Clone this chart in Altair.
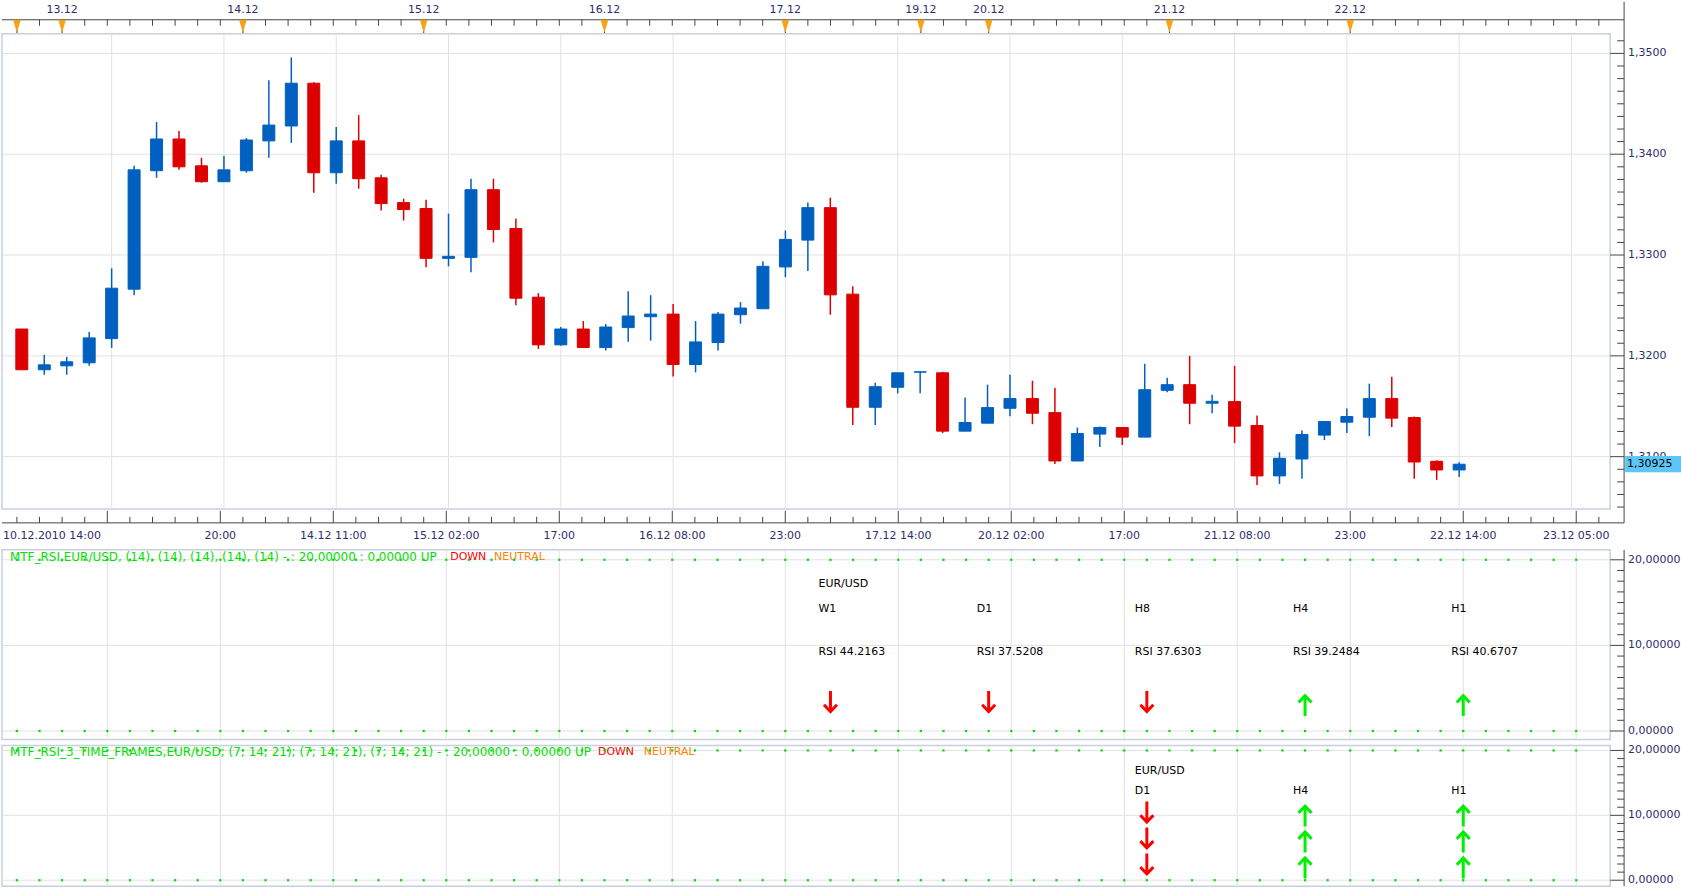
import altair as alt
import pandas as pd

# ---------------- data (EUR/USD, 3-hour candles) ----------------
candle_open = [1.32266, 1.31862, 1.31901, 1.31931, 1.32171, 1.32661, 1.33836, 1.34151, 1.33885, 1.33727,
               1.33836, 1.34132, 1.34280, 1.34704, 1.33816, 1.34132, 1.33766, 1.33520, 1.33461, 1.32967,
               1.32977, 1.33648, 1.33263, 1.32582, 1.32109, 1.32266, 1.32082, 1.32280, 1.32388, 1.32414,
               1.31914, 1.32132, 1.32408, 1.32467, 1.32882, 1.33148, 1.33470, 1.32612, 1.31490, 1.31688,
               1.31838, 1.31832, 1.31253, 1.31332, 1.31480, 1.31576, 1.31437, 1.30957, 1.31224, 1.31289,
               1.31194, 1.31658, 1.31714, 1.31530, 1.31546, 1.31309, 1.30809, 1.30977, 1.31214, 1.31342,
               1.31391, 1.31576, 1.31388, 1.30954, 1.30868]
candle_high = [1.32266, 1.32010, 1.31990, 1.32237, 1.32868, 1.33885, 1.34319, 1.34230, 1.33964, 1.33984,
               1.34161, 1.34734, 1.34960, 1.34714, 1.34270, 1.34388, 1.33796, 1.33559, 1.33549, 1.33411,
               1.33757, 1.33757, 1.33362, 1.32622, 1.32286, 1.32345, 1.32316, 1.32641, 1.32602, 1.32513,
               1.32345, 1.32434, 1.32533, 1.32938, 1.33243, 1.33520, 1.33569, 1.32691, 1.31734, 1.31832,
               1.31842, 1.31842, 1.31586, 1.31714, 1.31813, 1.31753, 1.31684, 1.31289, 1.31299, 1.31289,
               1.31921, 1.31783, 1.32000, 1.31615, 1.31901, 1.31408, 1.31043, 1.31260, 1.31349, 1.31477,
               1.31724, 1.31793, 1.31398, 1.30964, 1.30944]
candle_low = [1.31862, 1.31813, 1.31813, 1.31901, 1.32079, 1.32602, 1.33766, 1.33845, 1.33717, 1.33727,
              1.33816, 1.33964, 1.34112, 1.33618, 1.33707, 1.33658, 1.33441, 1.33342, 1.32878, 1.32888,
              1.32829, 1.33125, 1.32503, 1.32069, 1.32099, 1.32082, 1.32053, 1.32141, 1.32151, 1.31796,
              1.31836, 1.32053, 1.32319, 1.32467, 1.32780, 1.32842, 1.32408, 1.31313, 1.31313, 1.31628,
              1.31628, 1.31234, 1.31253, 1.31332, 1.31401, 1.31322, 1.30928, 1.30957, 1.31095, 1.31115,
              1.31194, 1.31638, 1.31322, 1.31431, 1.31135, 1.30720, 1.30730, 1.30780, 1.31164, 1.31234,
              1.31204, 1.31293, 1.30780, 1.30770, 1.30799]
candle_close = [1.31862, 1.31911, 1.31941, 1.32178, 1.32671, 1.33845, 1.34151, 1.33875, 1.33727, 1.33845,
                1.34141, 1.34289, 1.34704, 1.33816, 1.34132, 1.33757, 1.33510, 1.33451, 1.32967, 1.32987,
                1.33648, 1.33253, 1.32572, 1.32109, 1.32266, 1.32082, 1.32286, 1.32395, 1.32414, 1.31914,
                1.32138, 1.32414, 1.32474, 1.32888, 1.33155, 1.33470, 1.32605, 1.31490, 1.31694, 1.31832,
                1.31842, 1.31253, 1.31339, 1.31487, 1.31576, 1.31431, 1.30957, 1.31230, 1.31289, 1.31194,
                1.31664, 1.31714, 1.31530, 1.31549, 1.31303, 1.30809, 1.30984, 1.31220, 1.31349, 1.31398,
                1.31576, 1.31382, 1.30947, 1.30868, 1.30925]

day_marker_index = [0, 2, 10, 18, 26, 34, 40, 43, 51, 59]
day_marker_label = ["", "13.12", "14.12", "15.12", "16.12", "17.12", "19.12", "20.12", "21.12", "22.12"]

first_time_label = "10.12.2010 14:00"
time_label_index = [9, 14, 19, 24, 29, 34, 39, 44, 49, 54, 59, 64, 69]
time_label_text = ["20:00", "14.12 11:00", "15.12 02:00", "17:00", "16.12 08:00", "23:00",
                   "17.12 14:00", "20.12 02:00", "17:00", "21.12 08:00", "23:00", "22.12 14:00",
                   "23.12 05:00"]
grid_index = [4, 9, 14, 19, 24, 29, 34, 39, 44, 49, 54, 59, 64, 69]

price_grid = [1.31, 1.32, 1.33, 1.34, 1.35]
price_grid_label = ["1,3100", "1,3200", "1,3300", "1,3400", "1,3500"]
last_price = [1.30925]
last_price_label = ["1,30925"]

# indicator 1: MTF_RSI
p1_header = "MTF_RSI,EUR/USD, (14), (14), (14), (14), (14) - : 20,00000 : 0,00000 UP"
p1_pair = ["EUR/USD"]
p1_index = [36, 43, 50, 57, 64]
p1_tf = ["W1", "D1", "H8", "H4", "H1"]
p1_rsi = [44.2163, 37.5208, 37.6303, 39.2484, 40.6707]
p1_dir = ["down", "down", "down", "up", "up"]

# indicator 2: MTF_RSI_3_TIME_FRAMES
p2_header = "MTF_RSI_3_TIME_FRAMES,EUR/USD; (7; 14; 21); (7; 14; 21), (7; 14; 21) - : 20,00000 : 0,00000 UP"
p2_pair = ["EUR/USD"]
p2_index = [50, 57, 64]
p2_tf = ["D1", "H4", "H1"]
p2_dir = [["down", "down", "down"], ["up", "up", "up"], ["up", "up", "up"]]

levels = [0, 10, 20]
level_label = ["0,00000", "10,00000", "20,00000"]
dot_level = [20, 0]

# ---------------- styling ----------------
FONT = "DejaVu Sans"
NAVY = "#2e2e6e"
GRID = "#e2e2e2"
BORDER = "#c6d0dc"
AXIS = "#444444"
BLUE = "#0060c0"
RED = "#dc0000"
GREEN = "#00e000"
W = 1611
AX_X = 1625

xs = alt.Scale(domain=[-0.66, 70.5], nice=False, zero=False)


def X(f):
    return alt.X(f, type="quantitative", scale=xs, axis=None)


one = pd.DataFrame({"a": [0]})


def vline(x, y0, y1):
    return alt.Chart(one).mark_rule(color=AXIS, strokeWidth=1).encode(
        x=alt.value(x), y=alt.value(y0), y2=alt.value(y1))


def hline(y, x0, x1):
    return alt.Chart(one).mark_rule(color=AXIS, strokeWidth=1).encode(
        x=alt.value(x0), x2=alt.value(x1), y=alt.value(y))


TRI = "M-0.6,-1L0.6,-1L0,1Z"
DOWN = "M0,-1L0,0.95M-0.62,0.3L0,0.95L0.62,0.3"
UP = "M0,1L0,-0.95M-0.62,-0.3L0,-0.95L0.62,-0.3"
BOX = "M-1,-0.29L1,-0.29L1,0.29L-1,0.29Z"

# ---------------- top date strip ----------------
markers = pd.DataFrame({"i": day_marker_index, "label": day_marker_label})
cand_idx = pd.DataFrame({"i": list(range(0, 71))})
top = alt.layer(
    hline(18, 0, AX_X),
    alt.Chart(cand_idx).mark_rule(color=AXIS).encode(x=X("i"), y=alt.value(18), y2=alt.value(24)),
    alt.Chart(markers).mark_rule(color="#333333").encode(x=X("i"), y=alt.value(18), y2=alt.value(32)),
    alt.Chart(markers).mark_point(shape=TRI, size=169, filled=True, color="#f7a21b", opacity=1).encode(
        x=X("i"), y=alt.value(24.5)),
    alt.Chart(markers).mark_text(font=FONT, fontSize=11, color=NAVY, baseline="middle").encode(
        x=X("i"), y=alt.value(8), text="label:N"),
    vline(AX_X, 0, 32),
).properties(width=W, height=32)

# ---------------- main candle chart ----------------
cdf = pd.DataFrame({"i": list(range(len(candle_open))), "open": candle_open, "high": candle_high,
                    "low": candle_low, "close": candle_close})
cdf["dir"] = ["up" if c >= o else "down" for o, c in zip(candle_open, candle_close)]
ys = alt.Scale(domain=[1.30482, 1.35195], nice=False, zero=False)


def Y(f):
    return alt.Y(f, type="quantitative", scale=ys, axis=None)


col = alt.Color("dir:N", scale=alt.Scale(domain=["up", "down"], range=[BLUE, RED]), legend=None)
tick_vals = [round(1.305 + k * 0.00125, 5) for k in range(38)]
ticks_df = pd.DataFrame({"p": tick_vals, "major": [k % 8 == 4 for k in range(38)]})
pg = pd.DataFrame({"p": price_grid, "label": price_grid_label})
lp = pd.DataFrame({"p": last_price, "label": last_price_label})

main = alt.layer(
    alt.Chart(pd.DataFrame({"i": grid_index})).mark_rule(color=GRID).encode(x=X("i")),
    alt.Chart(pg).mark_rule(color=GRID).encode(y=Y("p")),
    alt.Chart(cdf).mark_rule(strokeWidth=1.5).encode(x=X("i"), y=Y("low"), y2=alt.Y2("high"), color=col),
    alt.Chart(cdf).mark_bar(size=12, strokeWidth=1).encode(
        x=X("i"), y=Y("open"), y2=alt.Y2("close"), color=col, stroke=col),
    vline(AX_X, 0, 476),
    alt.Chart(ticks_df).transform_filter("!datum.major").mark_rule(color=AXIS).encode(
        x=alt.value(1618), x2=alt.value(AX_X), y=Y("p")),
    alt.Chart(ticks_df).transform_filter("datum.major").mark_rule(color=AXIS).encode(
        x=alt.value(W), x2=alt.value(AX_X), y=Y("p")),
    alt.Chart(pg).mark_text(font=FONT, fontSize=11, color=NAVY, align="left", baseline="middle").encode(
        x=alt.value(1629), y=Y("p"), text="label:N"),
    alt.Chart(lp).mark_point(shape=BOX, size=3136, filled=True, color="#5cc6f7", opacity=1).encode(
        x=alt.value(1654), y=Y("p")),
    alt.Chart(lp).mark_text(font=FONT, fontSize=11, color="#000000", align="left", baseline="middle").encode(
        x=alt.value(1628), y=Y("p"), text="label:N"),
).properties(width=W, height=476, view=alt.ViewBackground(stroke=BORDER, strokeWidth=1.5))

# ---------------- bottom time axis strip ----------------
tl = pd.DataFrame({"i": time_label_index, "label": time_label_text})
minor_idx = pd.DataFrame({"i": [k for k in range(0, 71) if k not in grid_index]})
bottom = alt.layer(
    hline(14, 0, AX_X),
    vline(AX_X, 0, 14),
    alt.Chart(pd.DataFrame({"i": grid_index})).mark_rule(color=AXIS).encode(
        x=X("i"), y=alt.value(2), y2=alt.value(14)),
    alt.Chart(minor_idx).mark_rule(color=AXIS).encode(x=X("i"), y=alt.value(8), y2=alt.value(14)),
    alt.Chart(tl).mark_text(font=FONT, fontSize=11, color=NAVY, baseline="middle").encode(
        x=X("i"), y=alt.value(27), text="label:N"),
    alt.Chart(pd.DataFrame({"label": [first_time_label]})).mark_text(
        font=FONT, fontSize=11, color=NAVY, align="left", baseline="middle").encode(
        x=alt.value(1), y=alt.value(27), text="label:N"),
).properties(width=W, height=41)


# ---------------- indicator panels ----------------
def panel_common(yscale, height, header, header_pos):
    def YP(f):
        return alt.Y(f, type="quantitative", scale=yscale, axis=None)
    dots = pd.DataFrame([{"i": i, "lvl": l} for l in dot_level for i in range(0, 70)])
    lv = pd.DataFrame({"v": levels, "label": level_label})
    pt = pd.DataFrame({"v": [k * 1.25 for k in range(17)], "major": [k % 8 == 0 for k in range(17)]})
    layers = [
        alt.Chart(pd.DataFrame({"i": grid_index})).mark_rule(color=GRID).encode(x=X("i")),
        alt.Chart(lv).mark_rule(color=GRID).encode(y=YP("v")),
        alt.Chart(pd.DataFrame({"t": [header]})).mark_text(
            font=FONT, fontSize=12, color=GREEN, align="left", baseline="middle").encode(
            x=alt.value(8), y=alt.value(header_pos[0]), text="t:N"),
        alt.Chart(pd.DataFrame({"t": ["DOWN"]})).mark_text(
            font=FONT, fontSize=11, color="#ff0000", align="left", baseline="middle").encode(
            x=alt.value(header_pos[1]), y=alt.value(header_pos[0]), text="t:N"),
        alt.Chart(pd.DataFrame({"t": ["NEUTRAL"]})).mark_text(
            font=FONT, fontSize=11, color="#ff8000", align="left", baseline="middle").encode(
            x=alt.value(header_pos[2]), y=alt.value(header_pos[0]), text="t:N"),
        alt.Chart(dots).mark_square(size=5, color=GREEN, opacity=1).encode(x=X("i"), y=YP("lvl")),
        vline(AX_X, 0, height),
        alt.Chart(pt).transform_filter("!datum.major").mark_rule(color=AXIS).encode(
            x=alt.value(1618), x2=alt.value(AX_X), y=YP("v")),
        alt.Chart(pt).transform_filter("datum.major").mark_rule(color=AXIS).encode(
            x=alt.value(W), x2=alt.value(AX_X), y=YP("v")),
        alt.Chart(lv).mark_text(font=FONT, fontSize=11, color=NAVY, align="left", baseline="middle").encode(
            x=alt.value(1629), y=YP("v"), text="label:N"),
    ]
    return layers, YP


def arrow_layers(df, YP, level_expr):
    out = []
    for d, path, color, off in [("down", DOWN, "#ff0000", -2), ("up", UP, "#00f000", 2)]:
        out.append(alt.Chart(df).transform_filter(alt.datum.dir == d).transform_calculate(
            lvl=level_expr).mark_point(
            shape=path, size=441, filled=False, strokeWidth=3, color=color, opacity=1, yOffset=off,
            strokeJoin="miter").encode(x=X("i"), y=YP("lvl")))
    return out


txt = dict(font=FONT, fontSize=11, color="#000000", align="left", baseline="middle", dx=-12)

# panel 1
y1 = alt.Scale(domain=[-0.991, 21.166], nice=False, zero=False)
l1, YP1 = panel_common(y1, 190, p1_header, (7, 449, 493))
d1 = pd.DataFrame({"i": p1_index, "tf": p1_tf, "dir": p1_dir,
                   "rsi": ["RSI %.4f" % v for v in p1_rsi]})
pair1 = pd.DataFrame({"i": [p1_index[0]], "t": p1_pair})
l1 += [
    alt.Chart(pair1).transform_calculate(lvl="17.2").mark_text(**txt).encode(
        x=X("i"), y=YP1("lvl"), text="t:N"),
    alt.Chart(d1).transform_calculate(lvl="14.3").mark_text(**txt).encode(
        x=X("i"), y=YP1("lvl"), text="tf:N"),
    alt.Chart(d1).transform_calculate(lvl="9.27").mark_text(**txt).encode(
        x=X("i"), y=YP1("lvl"), text="rsi:N"),
]
l1 += arrow_layers(d1, YP1, "3.2")
panel1 = alt.layer(*l1).properties(width=W, height=190,
                                   view=alt.ViewBackground(stroke=BORDER, strokeWidth=1.5))

gap = alt.layer(vline(AX_X, 0, 6)).properties(width=W, height=6)

# panel 2
y2 = alt.Scale(domain=[-0.923, 20.769], nice=False, zero=False)
l2, YP2 = panel_common(y2, 141, p2_header, (7, 597, 643))
d2 = pd.DataFrame({"i": p2_index, "tf": p2_tf})
arr2 = pd.DataFrame([{"i": p2_index[c], "row": r, "dir": p2_dir[c][r]}
                     for c in range(len(p2_index)) for r in range(3)])
pair2 = pd.DataFrame({"i": [p2_index[0]], "t": p2_pair})
l2 += [
    alt.Chart(pair2).transform_calculate(lvl="16.8").mark_text(**txt).encode(
        x=X("i"), y=YP2("lvl"), text="t:N"),
    alt.Chart(d2).transform_calculate(lvl="13.7").mark_text(**txt).encode(
        x=X("i"), y=YP2("lvl"), text="tf:N"),
]
l2 += arrow_layers(arr2, YP2, "10.2 - 4 * datum.row")
panel2 = alt.layer(*l2).properties(width=W, height=141,
                                   view=alt.ViewBackground(stroke=BORDER, strokeWidth=1.5))

chart = alt.vconcat(top, main, bottom, panel1, gap, panel2, spacing=0, bounds="flush").properties(
    padding=0, background="white"
).configure_view(stroke="transparent")

chart.save("out.html", embed_options={"renderer": "svg", "actions": False})
